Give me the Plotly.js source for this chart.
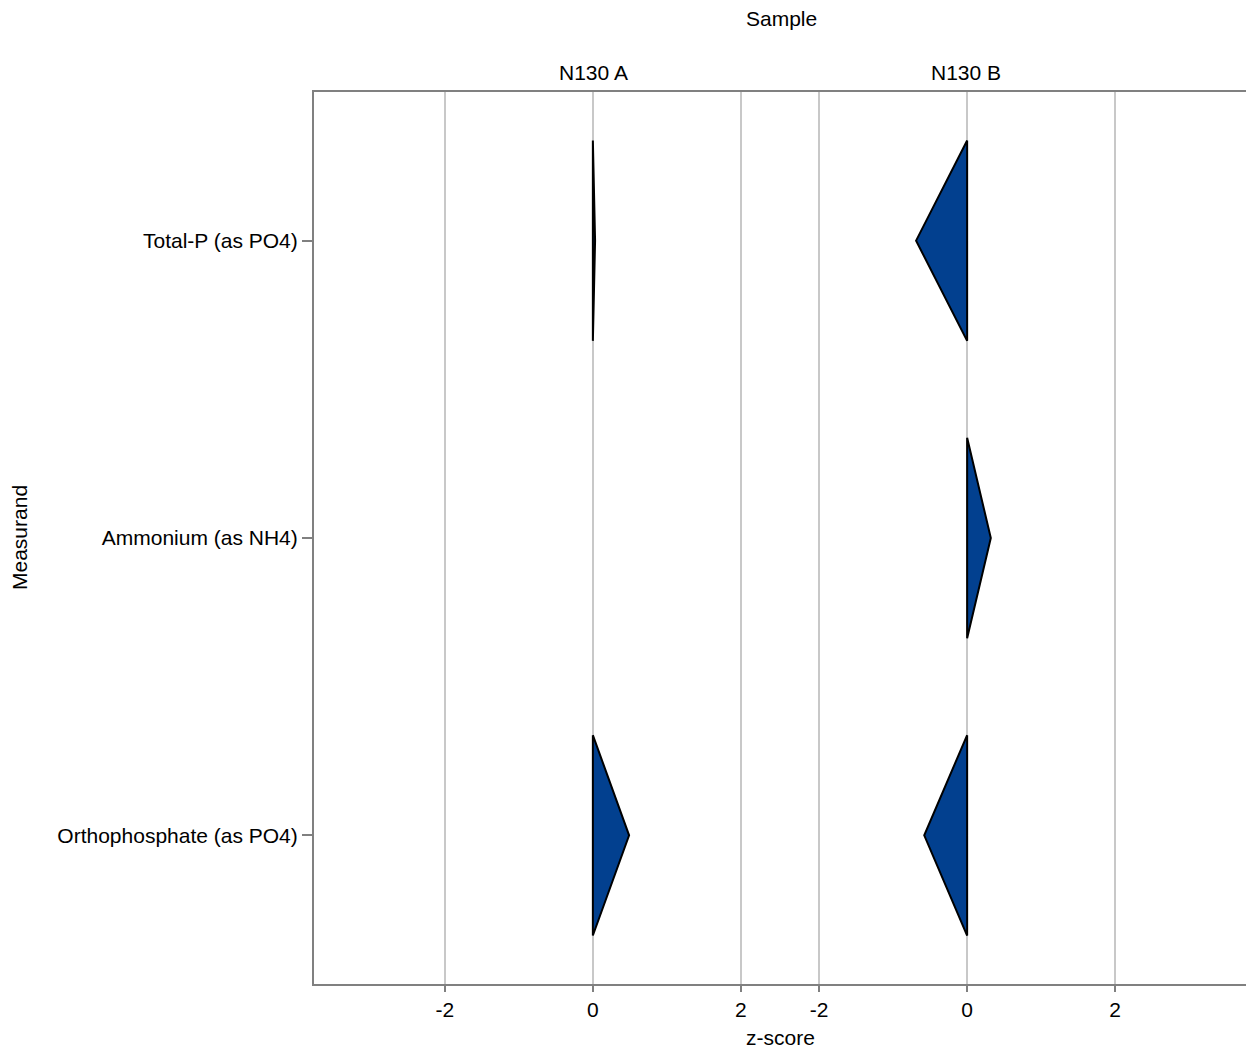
<!DOCTYPE html>
<html>
<head>
<meta charset="utf-8">
<script src="https://cdn.plot.ly/plotly-3.0.1.min.js"></script>
<style>html,body{margin:0;padding:0;background:#fff;}</style>
</head>
<body>
<div id="chart" style="width:1246px;height:1054px;"></div>
<script>
// Data
const measurands = ["Orthophosphate (as PO4)", "Ammonium (as NH4)", "Total-P (as PO4)"];
const samples = ["N130 A", "N130 B"];
// z-scores per sample, aligned with measurands (null = no result)
const zA = [0.49, null, 0.03];
const zB = [-0.58, 0.32, -0.69];
const xTickVals = [-2, 0, 2];
const xTickText = ["-2", "0", "2"];

const halfH = 0.337;
const fillColor = "#02408F";
const gridColor = "#c8c8c8";
const lineColor = "#808080";
const fontFam = "Liberation Sans, Arial, sans-serif";
const fs = 21;

function triangles(values, xa) {
  const tr = [];
  values.forEach((v, i) => {
    if (v === null) return;
    tr.push({
      type: "scatter", mode: "lines", fill: "toself",
      x: [0, v, 0, 0], y: [i + halfH, i, i - halfH, i + halfH],
      xaxis: xa, yaxis: "y",
      fillcolor: fillColor,
      line: {color: "#000000", width: 2},
      hoverinfo: "skip", showlegend: false
    });
  });
  return tr;
}

const traces = [].concat(triangles(zA, "x"), triangles(zB, "x2"));

const xcommon = {
  tickmode: "array", tickvals: xTickVals, ticktext: xTickText,
  showgrid: true, gridcolor: gridColor, gridwidth: 2,
  zeroline: true, zerolinecolor: gridColor, zerolinewidth: 2,
  showline: true, linecolor: lineColor, linewidth: 2, mirror: true,
  ticks: "outside", ticklen: 6, tickcolor: lineColor, tickwidth: 2,
  tickfont: {family: fontFam, size: fs, color: "#000"},
  anchor: "y", fixedrange: true
};

const layout = {
  width: 1246, height: 1054,
  margin: {l: 314, r: 0, t: 92, b: 70},
  paper_bgcolor: "#fff", plot_bgcolor: "#fff",
  font: {family: fontFam, size: fs, color: "#000"},
  showlegend: false,
  xaxis: Object.assign({}, xcommon, {domain: [0, 0.5], range: [-3.77, 2.53]}),
  xaxis2: Object.assign({}, xcommon, {domain: [0.5, 1], range: [-2.53, 3.77]}),
  yaxis: {
    range: [-0.5, 2.5], tickmode: "array", tickvals: measurands.map((m, i) => i), ticktext: measurands,
    showgrid: false, zeroline: false,
    showline: true, linecolor: lineColor, linewidth: 2,
    ticks: "outside", ticklen: 10, tickcolor: lineColor, tickwidth: 2,
    tickfont: {family: fontFam, size: fs, color: "#000"},
    title: {text: ""},
    anchor: "x", fixedrange: true
  },
  annotations: [
    {text: "Sample", xref: "paper", yref: "paper", x: 0.502, y: 1, yshift: 74, xanchor: "center", yanchor: "middle", showarrow: false, font: {size: fs}},
    {text: samples[0], xref: "paper", yref: "paper", x: 0.2995, y: 1, yshift: 20, xanchor: "center", yanchor: "middle", showarrow: false, font: {size: fs}},
    {text: samples[1], xref: "paper", yref: "paper", x: 0.7, y: 1, yshift: 20, xanchor: "center", yanchor: "middle", showarrow: false, font: {size: fs}},
    {text: "z-score", xref: "paper", yref: "paper", x: 0.5, y: 0, yshift: -53, xanchor: "center", yanchor: "middle", showarrow: false, font: {size: fs}},
    {text: "Measurand", xref: "paper", yref: "paper", x: 0, xshift: -295, y: 0.5, textangle: -90, xanchor: "center", yanchor: "middle", showarrow: false, font: {size: fs}}
  ]
};

Plotly.newPlot("chart", traces, layout, {displayModeBar: false, staticPlot: true});
</script>
</body>
</html>
